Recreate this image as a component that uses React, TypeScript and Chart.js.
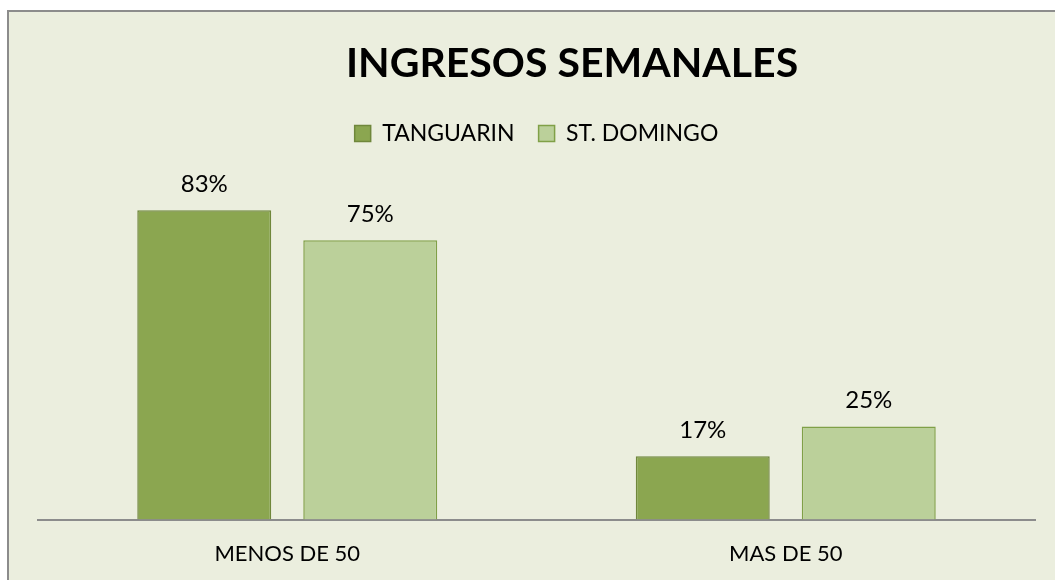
import React, { useEffect, useRef } from "react";
import { Chart, registerables } from "chart.js";

Chart.register(...registerables);

const categories = ["MENOS DE 50", "MAS DE 50"];
const seriesNames = ["TANGUARIN", "ST. DOMINGO"];
const tanguarin = [83, 17];
const stDomingo = [75, 25];
const titleText = "INGRESOS SEMANALES";

const FONT = "Lato, 'Open Sans', sans-serif";

export default function App() {
  const ref = useRef<HTMLCanvasElement>(null);

  useEffect(() => {
    if (!ref.current) return;

    const legendShrink = {
      id: "legendShrink",
      beforeInit(chart: any) {
        const legend = chart.legend;
        if (!legend) return;
        const origFit = legend.fit;
        legend.fit = function () {
          origFit.bind(legend)();
          this.height -= 8;
        };
      },
    };

    const titlePlugin = {
      id: "customTitle",
      afterDraw(chart: any) {
        const ctx = chart.ctx;
        ctx.save();
        ctx.font = `bold 41px ${FONT}`;
        ctx.fillStyle = "#000000";
        ctx.textAlign = "center";
        ctx.textBaseline = "middle";
        ctx.fillText(titleText, 563, 52);
        ctx.restore();
      },
    };

    const valueLabels = {
      id: "valueLabels",
      afterDatasetsDraw(chart: any) {
        const ctx = chart.ctx;
        ctx.save();
        ctx.font = `24px ${FONT}`;
        ctx.fillStyle = "#000000";
        ctx.textAlign = "center";
        ctx.textBaseline = "bottom";
        chart.data.datasets.forEach((ds: any, i: number) => {
          const meta = chart.getDatasetMeta(i);
          meta.data.forEach((bar: any, j: number) => {
            ctx.fillText(`${ds.data[j]}%`, bar.x, bar.y - 14);
          });
        });
        ctx.restore();
      },
    };

    const chart = new Chart(ref.current, {
      type: "bar",
      data: {
        labels: categories,
        datasets: [
          {
            label: seriesNames[0],
            data: tanguarin,
            backgroundColor: "#8BA650",
            borderColor: "#6F873B",
            borderWidth: 1.5,
            categoryPercentage: 0.666,
            barPercentage: 0.807,
          },
          {
            label: seriesNames[1],
            data: stDomingo,
            backgroundColor: "#BBD09A",
            borderColor: "#80A047",
            borderWidth: 1.5,
            categoryPercentage: 0.666,
            barPercentage: 0.807,
          },
        ],
      },
      options: {
        responsive: false,
        animation: false,
        devicePixelRatio: 1,
        layout: { padding: { left: 29, right: 38, top: 86, bottom: 0 } },
        plugins: {
          title: { display: false },
          tooltip: { enabled: false },
          legend: {
            display: true,
            position: "top",
            labels: {
              boxWidth: 16,
              boxHeight: 16,
              padding: 24,
              color: "#000000",
              font: { family: FONT, size: 23 },
            },
          },
        },
        scales: {
          x: {
            grid: { display: false, drawTicks: false },
            border: { display: true, color: "#8C8C8C", width: 2 },
            ticks: {
              color: "#000000",
              padding: 21,
              font: { family: FONT, size: 22 },
            },
          },
          y: {
            display: false,
            min: 0,
            max: 100,
          },
        },
      },
      plugins: [legendShrink, titlePlugin, valueLabels],
    });

    return () => chart.destroy();
  }, []);

  return (
    <div
      style={{
        position: "fixed",
        left: 7,
        top: 10,
        width: 1070,
        height: 600,
        border: "2px solid #8C8C8C",
        background: "#EBEEDE",
        overflow: "hidden",
      }}
    >
      <canvas
        ref={ref}
        width={1064}
        height={576}
        style={{ display: "block", width: 1064, height: 576 }}
      />
    </div>
  );
}
